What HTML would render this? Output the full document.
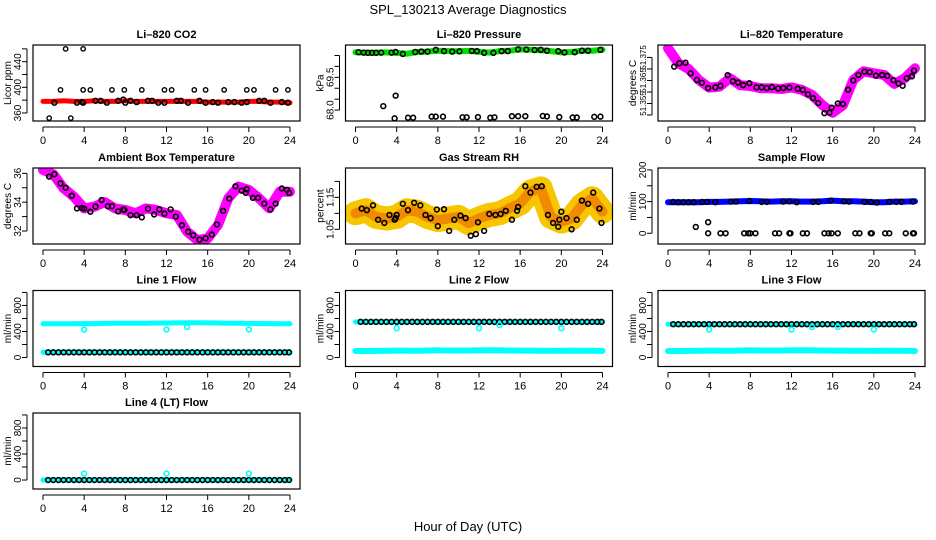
<!DOCTYPE html>
<html><head><meta charset="utf-8">
<style>
html,body{margin:0;padding:0;background:#fff;}
svg{display:block;font-family:"Liberation Sans",Arial,sans-serif;}
</style></head>
<body>
<svg id="chart" width="936" height="540" viewBox="0 0 936 540">
<text x="468" y="14" text-anchor="middle" font-size="13">SPL_130213  Average Diagnostics</text>
<text x="468" y="531" text-anchor="middle" font-size="13">Hour of Day (UTC)</text>
</svg>
<script>
// ---- data ----
const xTicks = [0,4,8,12,16,20,24];
const hours = [0,1,2,3,4,5,6,7,8,9,10,11,12,13,14,15,16,17,18,19,20,21,22,23,24];
const halfHours = [0.5,1,1.5,2,2.5,3,3.5,4,4.5,5,5.5,6,6.5,7,7.5,8,8.5,9,9.5,10,10.5,11,11.5,12,12.5,13,13.5,14,14.5,15,15.5,16,16.5,17,17.5,18,18.5,19,19.5,20,20.5,21,21.5,22,22.5,23,23.5,23.9];

// CO2
const co2Band = [378,378,379,378,378,379,378,378,379,378,378,378,378,378,378,378,377,377,377,377,378,378,377,377,376];
const co2CircT = [1.1,3.3,3.8,3.9,5.1,5.6,6.2,7.3,7.8,8,8.5,9.1,10.2,10.6,11.2,11.8,13,13.4,14.1,15.2,15.8,16.5,17,18,18.6,19.3,19.8,21,21.5,22.1,23.2,23.8];
const co2CircV = [376,376,377,376,379,379,376,379,381,376,379,377,379,379,376,376,379,379,376,379,376,377,376,377,377,376,377,379,379,376,377,376];
const co2OutT = [0.6,2.2,2.7,3.9,1.7,3.9,4.6,6.7,7.9,9.6,11.8,12.5,14.7,15.8,17.6,19.8,20.5,22.6,23.8];
const co2OutV = [352,460,352,460,396,396,396,396,396,396,396,396,396,396,396,396,396,396,396];

// Pressure
const presBand = [70.65,70.63,70.63,70.64,70.62,70.58,70.66,70.68,70.72,70.70,70.69,70.71,70.67,70.63,70.70,70.72,70.78,70.76,70.74,70.70,70.64,70.66,70.72,70.72,70.76];
const presCircT = [0.3,0.8,1.2,1.6,2,2.5,3.5,3.9,4.6,5.8,6.4,7,7.8,8.6,9.4,10.1,11.3,11.8,12.5,13.4,14.2,14.8,15.8,16.6,17.4,18,18.6,19.7,20.3,21.3,22,22.6,23.8];
const presCircV = [70.65,70.63,70.62,70.62,70.62,70.63,70.63,70.66,70.57,70.66,70.68,70.68,70.76,70.70,70.68,70.69,70.71,70.70,70.62,70.62,70.70,70.70,70.78,70.77,70.75,70.76,70.72,70.70,70.64,70.65,70.72,70.72,70.76];
const presLowT = [2.7,3.9,3.8,5.1,5.6,7.4,7.8,8.5,10.4,10.8,11.9,13.1,13.5,15.2,15.8,16.5,18.2,18.6,19.8,21.1,21.5,23.2,23.8];
const presLowV = [68.18,68.66,67.62,67.65,67.65,67.70,67.70,67.70,67.67,67.67,67.68,67.65,67.67,67.72,67.72,67.72,67.73,67.71,67.68,67.66,67.66,67.69,67.70];

// Li-820 temperature
const tempBand = [51.3790,51.3725,51.3700,51.3652,51.3619,51.3623,51.3660,51.3630,51.3626,51.3616,51.3616,51.3613,51.3620,51.3609,51.3587,51.3543,51.3510,51.3543,51.3652,51.3690,51.3681,51.3674,51.3635,51.3660,51.3703];
const tempCircT = [0.6,1.1,1.7,2.2,2.8,3.3,3.9,4.6,5.1,5.8,6.3,6.8,7.3,7.9,8.6,9.1,9.6,10.1,10.7,11.2,11.8,12.6,13.1,13.6,14.1,14.6,15.2,15.7,15.9,16.5,17,17.5,18,18.5,19.1,19.6,20.2,20.8,21.3,21.9,22.4,22.8,23.2,23.7,23.9];
const tempCircV = [51.3710,51.3725,51.3727,51.3681,51.3652,51.3640,51.3617,51.3620,51.3627,51.3673,51.3647,51.3641,51.3630,51.3638,51.3620,51.3620,51.3617,51.3621,51.3615,51.3617,51.3619,51.3614,51.3609,51.3590,51.3573,51.3552,51.3508,51.3510,51.3532,51.3550,51.3548,51.3610,51.3650,51.3674,51.3688,51.3686,51.3671,51.3674,51.3670,51.3651,51.3637,51.3627,51.3660,51.3668,51.3693];

// Ambient box temperature
const ambBand = [36.24,35.94,34.96,34.38,33.57,33.69,34.0,33.57,33.46,33.23,33.57,33.46,33.23,33.11,31.95,31.38,31.49,32.42,34.27,35.08,34.85,34.27,33.57,34.73,34.73];
const ambCircT = [0.6,1.1,1.7,2.2,2.8,3.3,3.8,4,4.6,5.1,5.7,6.3,6.7,7.3,7.8,7.9,8.5,9.1,9.6,10.2,10.8,11.3,11.8,12.4,12.9,13.5,14.1,14.6,15.2,15.8,16.4,16.9,17.5,18.1,18.7,19.3,19.7,19.8,20.4,20.9,21.5,22.1,22.6,23.2,23.7,23.9];
const ambCircV = [35.77,35.94,35.30,35.00,34.45,33.57,33.60,33.55,33.34,33.70,34.15,33.72,33.72,33.36,33.50,33.46,33.10,33.10,32.95,33.55,33.15,33.50,33.20,33.50,33.00,32.40,31.95,31.70,31.40,31.50,31.75,32.45,33.40,34.25,35.10,34.80,34.65,34.90,34.30,34.30,33.90,33.50,33.90,34.95,34.85,34.65];

// Gas stream RH
const rhBand = [1.100,1.110,1.089,1.084,1.089,1.110,1.105,1.089,1.079,1.084,1.089,1.069,1.084,1.095,1.100,1.116,1.131,1.168,1.178,1.089,1.074,1.084,1.126,1.147,1.105];
const rhCircT = [0.6,1.1,1.7,2.2,2.8,3.3,3.8,3.9,4,4.6,5.1,5.7,6.3,6.8,7.3,7.9,8,8.6,9.1,9.6,10.2,10.7,11.2,11.7,11.9,12.5,13,13.6,14.1,14.6,15.2,15.7,15.8,16.5,17,17.6,18.1,18.7,19.2,19.7,19.8,20,20.5,21,21.5,22,22.6,23.1,23.7,23.9];
const rhCircV = [1.115,1.110,1.125,1.080,1.070,1.095,1.080,1.085,1.095,1.130,1.110,1.133,1.125,1.095,1.085,1.112,1.060,1.113,1.045,1.080,1.093,1.085,1.030,1.035,1.072,1.045,1.098,1.095,1.098,1.108,1.080,1.108,1.120,1.185,1.165,1.183,1.185,1.095,1.070,1.058,1.080,1.105,1.085,1.050,1.080,1.140,1.130,1.165,1.115,1.070];

// Sample flow
const sampBand = [98,98,98,98,99,99,100,101,102,101,100,101,101,100,100,101,103,101,101,100,98,98,100,100,101];
const sampCircT = [0.5,1,1.5,2,2.5,3.3,3.8,4.6,6.1,6.6,7.9,9.1,9.6,11.2,11.8,12.5,14.1,14.6,15.8,17.1,17.6,19.1,19.7,20.3,21.5,22.2,22.7,23.8];
const sampCircV = [99,98,98,98,98,99,99,98,100,100,102,99,99,100,101,98,99,99,103,101,100,99,99,97,99,99,99,100];
const sampLowT = [2.7,3.9,3.9,5.1,5.6,7.4,7.8,8,8.5,10.4,10.8,11.8,11.9,13.1,13.5,15.2,15.6,15.9,16.5,18.2,18.6,19.7,19.8,21.1,21.5,23.1,23.8,23.9];
const sampLowV = [20,35,0,0,0,0,0,0,0,0,0,0,0,0,0,0,0,0,0,0,0,0,0,0,0,0,0,0];

// Flow panels
const l1High = [520,520,520,520,522,522,524,526,528,528,528,530,530,532,534,534,532,530,528,526,524,522,522,520,520];
const l1Low = [80,80,80,80,80,80,80,80,80,80,80,80,80,80,80,80,80,80,80,80,80,80,80,80,80];
const l1Circ = [80,80,80,80,80,80,80,80,80,80,80,80,80,80,80,80,80,80,80,80,80,80,80,80,80,80,80,80,80,80,80,80,80,80,80,80,80,80,80,80,80,80,80,80,80,80,80,80];
const l1OutT = [4,12,14,20];
const l1OutV = [430,430,470,430];

const l2High = [548,548,548,548,548,548,548,548,548,548,548,548,548,548,548,548,548,548,548,548,548,548,548,548,548];
const l2Low = [100,100,102,104,106,106,104,108,110,108,108,108,110,112,110,108,106,106,104,104,102,106,104,104,100];
const l2Circ = [548,548,548,548,548,548,548,548,548,548,548,548,548,548,548,548,548,548,548,548,548,548,548,548,548,548,548,548,548,548,548,548,548,548,548,548,548,548,548,548,548,548,548,548,548,548,548,548];
const l2OutT = [4,12,14,20];
const l2OutV = [450,450,500,450];

const l3High = [512,512,512,512,512,512,512,512,512,512,512,512,512,512,512,512,512,512,512,512,512,512,512,512,512];
const l3Low = [100,100,102,104,106,106,104,108,110,108,108,108,110,112,110,108,106,106,104,104,102,106,104,104,100];
const l3Circ = [512,512,512,512,512,512,512,512,512,512,512,512,512,512,512,512,512,512,512,512,512,512,512,512,512,512,512,512,512,512,512,512,512,512,512,512,512,512,512,512,512,512,512,512,512,512,512,512];
const l3OutT = [4,12,14,16.5,20];
const l3OutV = [430,430,470,470,430];

const l4Band = [0,0,0,0,0,0,0,0,0,0,0,0,0,0,0,0,0,0,0,0,0,0,0,0,0];
const l4Circ = [0,0,0,0,0,0,0,0,0,0,0,0,0,0,0,0,0,0,0,0,0,0,0,0,0,0,0,0,0,0,0,0,0,0,0,0,0,0,0,0,0,0,0,0,0,0,0,0];
const l4OutT = [4,12,20];
const l4OutV = [100,100,100];

// ---- drawing ----
const NS = 'http://www.w3.org/2000/svg';
const svg = document.getElementById('chart');
const colLeft = [33,345.5,658];
const rowTop = [45,168,290.5,413];
const W = 267, H = 76;

function mk(tag, attrs, parent){
  const e = document.createElementNS(NS, tag);
  for (const k in attrs) e.setAttribute(k, attrs[k]);
  (parent||svg).appendChild(e);
  return e;
}

function panel(name, col, row, title, ytitle, dom, yticks, ylabels, lblSize){
  const g = mk('g', {});
  
  
  const L = colLeft[col], T = rowTop[row];
  const sx = t => L + 10 + t * (247/24);
  const sy = v => T + H - (v - dom[0]) / (dom[1] - dom[0]) * H;
  const t = mk('text', {x: L + W/2, y: T - 7, 'text-anchor':'middle', 'font-size':11, 'font-weight':'bold'}, g);
  t.textContent = title;
  
  
  // x axis
  const xa = mk('g', {}, g);
  
  
  mk('line', {x1: sx(0), x2: sx(24), y1: T+H+6, y2: T+H+6, stroke:'#000'}, xa);
  xTicks.forEach(v => {
    mk('line', {x1: sx(v), x2: sx(v), y1: T+H+6, y2: T+H+11, stroke:'#000'}, xa);
    const tx = mk('text', {x: sx(v), y: T+H+23, 'text-anchor':'middle', 'font-size':11}, xa);
    tx.textContent = v;
  });
  // y axis
  const ya = mk('g', {}, g);
  
  
  mk('line', {x1: L-6, x2: L-6, y1: sy(yticks[0]), y2: sy(yticks[yticks.length-1]), stroke:'#000'}, ya);
  yticks.forEach(v => mk('line', {x1: L-11, x2: L-6, y1: sy(v), y2: sy(v), stroke:'#000'}, ya));
  const bx = L - 12;
  ylabels.forEach(v => {
    const y = sy(v[0]);
    const tx = mk('text', {x: bx, y: y, 'text-anchor':'middle', 'font-size': lblSize||10, transform:`rotate(-90 ${bx} ${y})`}, ya);
    tx.textContent = v[1];
  });
  const tx2 = L - 22;
  const yt = mk('text', {x: tx2, y: T+H/2, 'text-anchor':'middle', 'font-size':10, transform:`rotate(-90 ${tx2} ${T+H/2})`}, g);
  yt.textContent = ytitle;
  
  
  // clip
  const cid = 'c' + name;
  const cp = mk('clipPath', {id: cid}, g);
  mk('rect', {x: L, y: T, width: W, height: H}, cp);
  const plot = mk('g', {'clip-path': `url(#${cid})`}, g);
  mk('rect', {x: L, y: T, width: W, height: H, fill:'none', stroke:'#000', 'stroke-width':1.2}, g);
  return {sx, sy, plot};
}

function band(p, name, ts, vs, color, width){
  const pts = ts.map((t,i) => p.sx(t).toFixed(1) + ',' + p.sy(vs[i]).toFixed(1)).join(' ');
  const pl = mk('polyline', {points: pts, fill:'none', stroke: color, 'stroke-width': width, 'stroke-linejoin':'round', 'stroke-linecap':'round'}, p.plot);
  
  
}
function circles(p, name, ts, vs, color, r, sw){
  const g = mk('g', {}, p.plot);
  
  
  ts.forEach((t,i) => {
    const c = mk('circle', {cx: p.sx(t), cy: p.sy(vs[i]), r: r||2.4, fill:'none', stroke: color||'#000', 'stroke-width': sw||1.6}, g);
    
    
  });
}

// CO2
let p = panel('co2', 0, 0, 'Li\u2013820 CO2', 'Licor ppm', [347.5,466], [360,380,400,420,440,460], [[360,'360'],[400,'400'],[440,'440']]);
band(p, 'co2-band', hours, co2Band, '#f00', 5);
circles(p, 'co2-circles', co2CircT, co2CircV);
circles(p, 'co2-outliers', co2OutT, co2OutV, '#000', 2.2, 1.4);

// Pressure
p = panel('pressure', 1, 0, 'Li\u2013820 Pressure', 'kPa', [67.5,70.98], [68,68.5,69,69.5,70,70.5], [[68,'68.0'],[69.5,'69.5']]);
band(p, 'pressure-band', hours, presBand, '#00e000', 6);
circles(p, 'pressure-circles', presCircT, presCircV);
circles(p, 'pressure-low', presLowT, presLowV);

// Temperature
p = panel('temperature', 2, 0, 'Li\u2013820 Temperature', 'degrees C', [51.3474,51.3804], [51.35,51.355,51.36,51.365,51.37,51.375], [[51.355,'51.355'],[51.365,'51.365'],[51.375,'51.375']], 8);
band(p, 'temperature-band', hours, tempBand, '#f0f', 10);
circles(p, 'temperature-circles', tempCircT, tempCircV);

// Ambient
p = panel('ambient', 0, 1, 'Ambient Box Temperature', 'degrees C', [31.1,36.37], [32,33,34,35,36], [[32,'32'],[34,'34'],[36,'36']]);
band(p, 'ambient-band', hours, ambBand, '#f0f', 10);
circles(p, 'ambient-circles', ambCircT, ambCircV);

// RH
p = panel('rh', 1, 1, 'Gas Stream RH', 'percent', [1.004,1.242], [1.05,1.10,1.15,1.20], [[1.05,'1.05'],[1.15,'1.15']]);
band(p, 'rh-band-outer', hours, rhBand, '#f7c600', 24);
band(p, 'rh-band-inner', hours, rhBand, '#f08a00', 10);
circles(p, 'rh-circles', rhCircT, rhCircV);

// Sample flow
p = panel('sample', 2, 1, 'Sample Flow', 'ml/min', [-33.8,206], [0,50,100,150,200], [[0,'0'],[100,'100'],[200,'200']]);
band(p, 'sample-band', hours, sampBand, '#00f', 6);
circles(p, 'sample-circles', sampCircT, sampCircV);
circles(p, 'sample-low', sampLowT, sampLowV);

const fTicks = [0,200,400,600,800,1000];
const fLabels = [[0,'0'],[400,'400'],[800,'800']];
const fDom = [-138,1030];

p = panel('line1', 0, 2, 'Line 1 Flow', 'ml/min', fDom, fTicks, fLabels);
band(p, 'line1-high-band', hours, l1High, '#0ff', 5);
band(p, 'line1-low-band', hours, l1Low, '#0ff', 5);
circles(p, 'line1-circles', halfHours, l1Circ);
circles(p, 'line1-outliers', l1OutT, l1OutV, '#0ff', 2.4, 1.6);

p = panel('line2', 1, 2, 'Line 2 Flow', 'ml/min', fDom, fTicks, fLabels);
band(p, 'line2-high-band', hours, l2High, '#0ff', 5);
band(p, 'line2-low-band', hours, l2Low, '#0ff', 6);
circles(p, 'line2-circles', halfHours, l2Circ);
circles(p, 'line2-outliers', l2OutT, l2OutV, '#0ff', 2.4, 1.6);

p = panel('line3', 2, 2, 'Line 3 Flow', 'ml/min', fDom, fTicks, fLabels);
band(p, 'line3-high-band', hours, l3High, '#0ff', 5);
band(p, 'line3-low-band', hours, l3Low, '#0ff', 6);
circles(p, 'line3-circles', halfHours, l3Circ);
circles(p, 'line3-outliers', l3OutT, l3OutV, '#0ff', 2.4, 1.6);

p = panel('line4', 0, 3, 'Line 4 (LT) Flow', 'ml/min', fDom, fTicks, fLabels);
band(p, 'line4-band', hours, l4Band, '#0ff', 5);
circles(p, 'line4-circles', halfHours, l4Circ);
circles(p, 'line4-outliers', l4OutT, l4OutV, '#0ff', 2.4, 1.6);
</script>
</body></html>
